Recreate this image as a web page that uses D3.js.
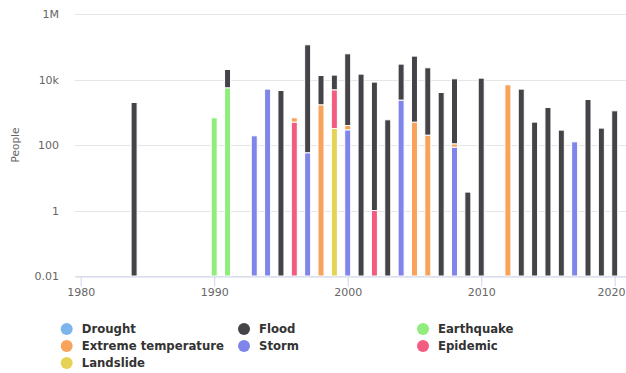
<!DOCTYPE html>
<html>
<head>
<meta charset="utf-8">
<script src="https://cdn.jsdelivr.net/npm/d3@7"></script>
<style>
  html, body { margin: 0; padding: 0; background: #fff; }
  svg { display: block; font-family: "DejaVu Sans", Verdana, sans-serif; }
</style>
</head>
<body>
<svg id="chart" width="626" height="373"></svg>
<script>
// ---- Data ----
const years = [1984,1990,1991,1993,1994,1995,1996,1997,1998,1999,2000,2001,2002,2003,2004,2005,2006,2007,2008,2009,2010,2012,2013,2014,2015,2016,2017,2018,2019,2020];

const seriesNames = ["Drought","Flood","Earthquake","Extreme temperature","Storm","Epidemic","Landslide"];
const seriesColors = ["#7cb5ec","#434348","#90ed7d","#f7a35c","#8085e9","#f15c80","#e4d354"];

const drought = years.map(() => null);
//             1984  1990  1991  1993 1994 1995 1996 1997   1998  1999 2000  2001  2002 2003 2004  2005  2006  2007 2008  2009 2010  2012 2013 2014 2015 2016 2017 2018 2019 2020
const flood =      [1985, null, 14600,null,null,4615,null,114600,11560,8770,60500,14600,8330,588, 27150,51300,22600,4010,10390,3.65,11000,null,5090,500, 1400,285, null,2450,328, 1107];
const earthquake = [null, 677,  5580, null,null,null,null,null,  null, null,null, null, null,null,null, null, null, null,null, null,null, null,null,null,null,null,null,null,null,null];
const extremeTemp =[null, null, null, null,null,null,177, null,  1690, null,103,  null, null,null,null, 500,  200,  null,23,   null,null, 6900,null,null,null,null,null,null,null,null];
const storm =      [null, null, null, 191, 5090,null,null,58,    null, null,291,  null, null,null,2350, null, null, null,86,   null,null, null,null,null,null,null,125, null,null,null];
const epidemic =   [null, null, null, null,null,null,500, null,  null, 4530,null, null, 1,   null,null, null, null, null,null, null,null, null,null,null,null,null,null,null,null,null];
const landslide =  [null, null, null, null,null,null,null,null,  null, 318, null, null, null,null,null, null, null, null,null, null,null, null,null,null,null,null,null,null,null,null];

const seriesValues = [drought, flood, earthquake, extremeTemp, storm, epidemic, landslide];

const yTickValues = [0.01, 1, 100, 10000, 1000000];
const yTickLabels = ["0.01", "1", "100", "10k", "1M"];
const xTickValues = [1980, 1990, 2000, 2010, 2020];

// ---- Layout ----
const W = 626;
const svg = d3.select("#chart");
const plotLeft = 75, plotRight = 626, plotTop = 14, plotBottom = 276;

const x = d3.scaleLinear().domain([1979.573, 2020.846]).range([plotLeft, plotRight]);
const y = d3.scaleLog().domain([0.01, 1e6]).range([plotBottom, plotTop]);

// gridlines
svg.append("g").selectAll("line").data(yTickValues).join("line")
  .attr("x1", plotLeft).attr("x2", plotRight)
  .attr("y1", d => Math.round(y(d)) + 0.5).attr("y2", d => Math.round(y(d)) + 0.5)
  .attr("stroke", "#e6e6e6").attr("stroke-width", 1);

// y axis labels
const yAxis = d3.axisLeft(y).tickValues(yTickValues)
  .tickFormat((d, i) => yTickLabels[i]).tickSize(0).tickPadding(0);
const yg = svg.append("g").attr("transform", `translate(59,0)`).call(yAxis);
yg.select(".domain").remove();
yg.selectAll("text").attr("fill", "#666666").style("font-size", "11px")
  .style("font-family", '"DejaVu Sans", sans-serif');

// y axis title
svg.append("text")
  .attr("transform", `translate(19,${(plotTop + plotBottom) / 2}) rotate(-90)`)
  .attr("text-anchor", "middle")
  .attr("fill", "#666666").style("font-size", "10.5px")
  .text("People");

// stacked bars: higher series index at bottom
const stackOrder = [6, 5, 4, 3, 2, 1, 0];
const segments = [];
years.forEach((yr, i) => {
  let cum = 0;
  stackOrder.forEach(s => {
    const v = seriesValues[s][i];
    if (v == null) return;
    const y0 = cum;
    cum += v;
    segments.push({ year: yr, s, y0, y1: cum });
  });
});

const barW = 6;
svg.append("g").selectAll("rect").data(segments).join("rect")
  .attr("x", d => x(d.year) - barW / 2)
  .attr("width", barW)
  .attr("y", d => y(d.y1))
  .attr("height", d => (d.y0 <= 0.01 ? plotBottom : y(d.y0)) - y(d.y1))
  .attr("fill", d => seriesColors[d.s])
  .attr("stroke", "#ffffff").attr("stroke-width", 1);

// x axis
const xAxis = d3.axisBottom(x).tickValues(xTickValues).tickFormat(d3.format("d"))
  .tickSize(10).tickPadding(2).tickSizeOuter(0);
const xg = svg.append("g").attr("transform", `translate(0,${plotBottom + 0.5})`).call(xAxis);
xg.select(".domain").attr("stroke", "#ccd6eb");
xg.selectAll(".tick line").attr("stroke", "#ccd6eb");
xg.selectAll("text").attr("fill", "#666666").style("font-size", "11px")
  .style("font-family", '"DejaVu Sans", sans-serif');
// keep overflowing edge labels inside the picture
xg.selectAll(".tick text").each(function(d) {
  const t = d3.select(this);
  const w = this.getComputedTextLength();
  const cx = x(d);
  if (cx + w / 2 > W - 1) t.attr("text-anchor", "end").attr("x", W - 1 - cx);
});

// legend
const legendCols = [66.7, 244, 423];
const legendRows = [329, 346, 363];
const legendItems = seriesNames.map((n, i) => ({ name: n, color: seriesColors[i], col: i % 3, row: Math.floor(i / 3) }));
const lg = svg.append("g").selectAll("g").data(legendItems).join("g")
  .attr("transform", d => `translate(${legendCols[d.col]},${legendRows[d.row]})`);
lg.append("circle").attr("r", 6).attr("fill", d => d.color);
lg.append("text").attr("x", 15).attr("dy", "0.35em")
  .attr("fill", "#333333").style("font-size", "11.7px").style("font-weight", "bold")
  .text(d => d.name);
</script>
</body>
</html>
